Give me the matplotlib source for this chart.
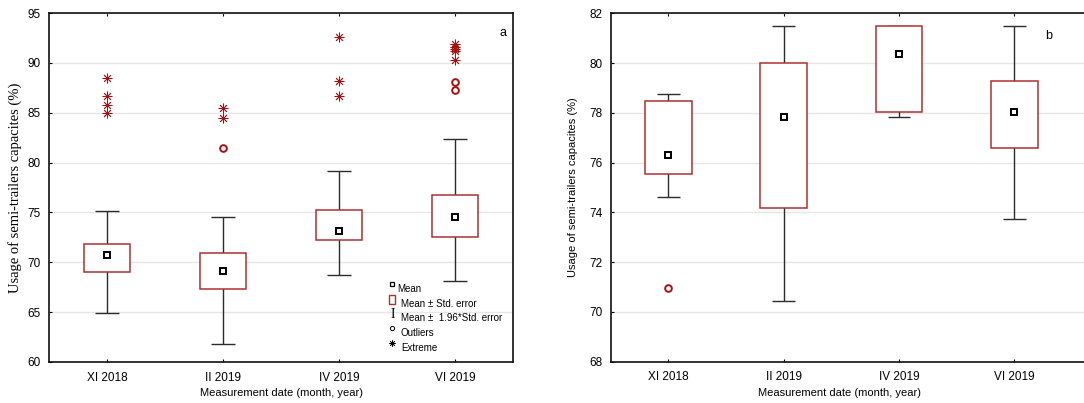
import matplotlib
matplotlib.use("Agg")
import matplotlib.pyplot as plt
from matplotlib.patches import Rectangle

plt.rcParams['font.family'] = ['Liberation Sans', 'DejaVu Sans']

categories = ["XI 2018", "II 2019", "IV 2019", "VI 2019"]

# Panel a
a_mean = [70.7, 69.1, 73.1, 74.55]
a_se_low = [69.05, 67.3, 72.23, 72.53]
a_se_high = [71.86, 70.9, 75.27, 76.78]
a_ci_low = [64.88, 61.83, 68.72, 68.12]
a_ci_high = [75.14, 74.54, 79.19, 82.33]
a_outliers = [[], [81.49], [], [88.08, 87.28]]
a_extremes = [[88.48, 86.68, 85.77, 84.94], [85.44, 84.47],
              [92.56, 88.15, 86.71], [91.9, 91.6, 91.4, 91.2, 90.3]]
a_yticks = [60, 65, 70, 75, 80, 85, 90, 95]

# Panel b
b_mean = [76.29, 77.85, 80.37, 78.03]
b_se_low = [75.56, 74.19, 78.03, 76.57]
b_se_high = [78.49, 80.02, 81.49, 79.27]
b_ci_low = [74.63, 70.45, 77.83, 73.73]
b_ci_high = [78.76, 81.49, 81.5, 81.49]
b_outliers = [[70.95], [], [], []]
b_extremes = [[], [], [], []]
b_yticks = [68, 70, 72, 74, 76, 78, 80, 82]

BOX_RED = "#b03030"
PT_RED = "#a81010"
WHISK = "#2b2b2b"

fig = plt.figure(figsize=(10.84, 4.03), dpi=100)
ax_a = fig.add_axes([49/1084, 41/403, 464/1084, 349/403])
ax_b = fig.add_axes([611/1084, 41.3/403, (1090-611)/1084, 348.4/403])


def draw(ax, mean, se_lo, se_hi, ci_lo, ci_hi, outl, extr, yticks, box_w, cap_w):
    x = list(range(len(categories)))
    ax.vlines(x, ci_lo, ci_hi, color=WHISK, lw=1.0, zorder=2)
    ax.hlines(ci_lo, [i - cap_w/2 for i in x], [i + cap_w/2 for i in x], color=WHISK, lw=1.0, zorder=2)
    ax.hlines(ci_hi, [i - cap_w/2 for i in x], [i + cap_w/2 for i in x], color=WHISK, lw=1.0, zorder=2)
    heights = [h - l for h, l in zip(se_hi, se_lo)]
    ax.bar(x, heights, bottom=se_lo, width=box_w, facecolor="white",
           edgecolor=BOX_RED, linewidth=1.1, zorder=3)
    ax.plot(x, mean, ls="none", marker="s", ms=4.8, mfc="white", mec="black",
            mew=1.4, zorder=5)
    for i, vals in enumerate(outl):
        if vals:
            ax.plot([i]*len(vals), vals, ls="none", marker="o", ms=4.8, mfc="white",
                    mec=PT_RED, mew=1.4, zorder=5)
    for i, vals in enumerate(extr):
        if vals:
            ax.plot([i]*len(vals), vals, ls="none", marker=(8, 2, 0), ms=7,
                    mec=PT_RED, mew=0.6, zorder=5)
    ax.set_yticks(yticks)
    ax.set_ylim(yticks[0], yticks[-1])
    ax.set_xticks(x)
    ax.set_xticklabels(categories)
    ax.yaxis.grid(True, color="#e6e6e6", lw=1.0, zorder=0)
    ax.set_axisbelow(True)
    ax.tick_params(axis="both", direction="in", length=2, width=0.8,
                   labelsize=8.5, colors="black", pad=6)
    ax.tick_params(axis="x", top=True, pad=7)
    for s in ax.spines.values():
        s.set_linewidth(1.2)
        s.set_color("#111111")
    ax.set_xlabel("Measurement date (month, year)", fontsize=8, labelpad=3)


draw(ax_a, a_mean, a_se_low, a_se_high, a_ci_low, a_ci_high, a_outliers,
     a_extremes, a_yticks, 0.40, 0.207)
ax_a.set_xlim(-0.5, 3.5)
ax_a.set_ylabel("Usage of semi-trailers capacites (%)", family="Liberation Serif",
                fontsize=10.5, labelpad=4)
ax_a.text(0.985, 0.935, "a", transform=ax_a.transAxes, fontsize=9, ha="right")

draw(ax_b, b_mean, b_se_low, b_se_high, b_ci_low, b_ci_high, b_outliers,
     b_extremes, b_yticks, 0.405, 0.197)
ax_b.set_xlim(-0.497, 3.657)
ax_b.spines["right"].set_visible(False)
ax_b.set_ylabel("Usage of semi-trailers capacites (%)", fontsize=8, labelpad=8)
ax_b.text((1049-611)/479, 0.925, "b", transform=ax_b.transAxes, fontsize=9, ha="center")
ax_b.xaxis.label.set_position(((840-611)/479, 0))

# Manual legend in panel a
lx = 0.740
tf = ax_a.transAxes
ax_a.plot([lx], [0.2226], transform=tf, marker="s", ms=3.5, mfc="white",
          mec="black", mew=0.9, ls="none", clip_on=False)
ax_a.text(0.7515, 0.210, "Mean", transform=tf, fontsize=7, va="center")
ax_a.add_patch(Rectangle((lx - 0.0065, 0.1667), 0.013, 0.026, transform=tf,
                         facecolor="white", edgecolor=BOX_RED, lw=1.0))
ax_a.text(0.7586, 0.167, "Mean \u00b1 Std. error", transform=tf, fontsize=7, va="center")
ax_a.text(lx, 0.1375, "I", transform=tf, family="Liberation Serif", fontsize=10,
          ha="center", va="center")
ax_a.text(0.7586, 0.127, "Mean \u00b1  1.96*Std. error", transform=tf, fontsize=7, va="center")
ax_a.plot([lx], [0.0974], transform=tf, marker="o", ms=3, mfc="white",
          mec="black", mew=0.7, ls="none")
ax_a.text(0.7586, 0.084, "Outliers", transform=tf, fontsize=7, va="center")
ax_a.plot([lx], [0.0536], transform=tf, marker=(8, 2, 0), ms=4.5,
          mec="black", mew=0.5, ls="none")
ax_a.text(0.7586, 0.041, "Extreme", transform=tf, fontsize=7, va="center")

fig.savefig("out.png", dpi=100)
